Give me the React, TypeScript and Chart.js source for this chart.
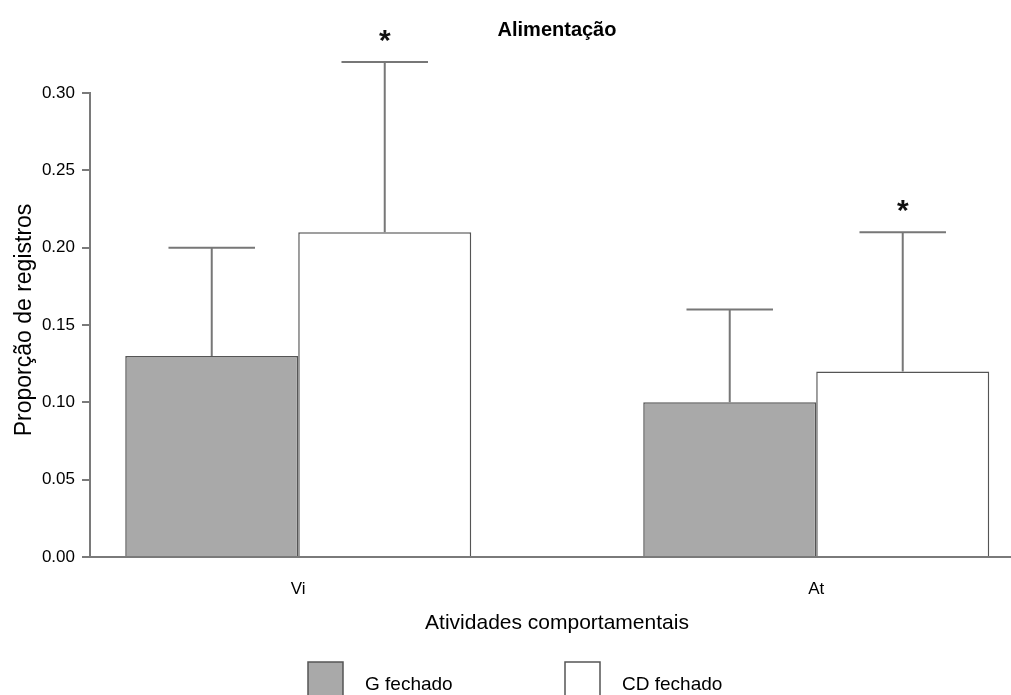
import React, { useEffect, useRef } from 'react';
import { Chart, registerables } from 'chart.js';

Chart.register(...registerables);

// ---- data ----
const categories = ['Vi', 'At'];
const categoryPositions = [1, 2];
const seriesNames = ['G fechado', 'CD fechado'];
const gFechado = [0.13, 0.1];
const cdFechado = [0.21, 0.12];
const gFechadoUpper = [0.2, 0.16];
const cdFechadoUpper = [0.32, 0.21];
const cdSignificant = [true, true];
const yTickValues = [0, 0.05, 0.1, 0.15, 0.2, 0.25, 0.3];
const chartTitle = 'Alimentação';
const xTitle = 'Atividades comportamentais';
const yTitle = 'Proporção de registros';

const FONT = '"Liberation Sans", Arial, sans-serif';
const GRAY_FILL = '#a9a9a9';
const EDGE = '#555555';
const AXIS = '#7a7a7a';
const ERR = '#777777';

const overlayPlugin = {
  id: 'overlay',
  afterDatasetsDraw(chart: any) {
    const ctx = chart.ctx;
    const yScale = chart.scales.y;
    const uppers = [gFechadoUpper, cdFechadoUpper];
    ctx.save();
    chart.data.datasets.forEach((_ds: any, di: number) => {
      const meta = chart.getDatasetMeta(di);
      meta.data.forEach((bar: any, i: number) => {
        const p = bar.getProps(['x', 'y', 'width'], true);
        const yu = yScale.getPixelForValue(uppers[di][i]);
        ctx.strokeStyle = ERR;
        ctx.lineWidth = 2;
        ctx.beginPath();
        ctx.moveTo(p.x, p.y);
        ctx.lineTo(p.x, yu);
        ctx.moveTo(p.x - p.width / 4, yu);
        ctx.lineTo(p.x + p.width / 4, yu);
        ctx.stroke();
        if (di === 1 && cdSignificant[i]) {
          ctx.fillStyle = '#111';
          ctx.font = `bold 30px ${FONT}`;
          ctx.textAlign = 'center';
          ctx.textBaseline = 'alphabetic';
          ctx.fillText('*', p.x, yu - 12);
        }
      });
    });
    ctx.restore();
  },
  afterDraw(chart: any) {
    const ctx = chart.ctx;
    ctx.save();
    ctx.fillStyle = '#000';
    // title
    ctx.font = `bold 20px ${FONT}`;
    ctx.textAlign = 'center';
    ctx.textBaseline = 'alphabetic';
    ctx.fillText(chartTitle, 557, 36);
    // x title
    ctx.font = `21px ${FONT}`;
    ctx.fillText(xTitle, 557, 629);
    // y title
    ctx.save();
    ctx.translate(31, 320);
    ctx.rotate(-Math.PI / 2);
    ctx.font = `23px ${FONT}`;
    ctx.fillText(yTitle, 0, 0);
    ctx.restore();
    // legend
    const fills = [GRAY_FILL, '#ffffff'];
    const boxX = [308, 565];
    const textX = [365, 622];
    ctx.font = `19px ${FONT}`;
    ctx.textAlign = 'left';
    seriesNames.forEach((name, i) => {
      ctx.fillStyle = fills[i];
      ctx.fillRect(boxX[i], 662, 35, 40);
      ctx.strokeStyle = EDGE;
      ctx.lineWidth = 1.5;
      ctx.strokeRect(boxX[i], 662, 35, 40);
      ctx.fillStyle = '#000';
      ctx.fillText(name, textX[i], 690);
    });
    ctx.restore();
  },
};

export default function App() {
  const ref = useRef<HTMLCanvasElement>(null);
  useEffect(() => {
    if (!ref.current) return;
    const chart = new Chart(ref.current, {
      type: 'bar',
      data: {
        datasets: [
          {
            label: seriesNames[0],
            data: categoryPositions.map((x, i) => ({ x, y: gFechado[i] })),
            backgroundColor: GRAY_FILL,
            borderColor: EDGE,
            borderWidth: 1.5,
            categoryPercentage: 346 / 518,
            barPercentage: 1,
          },
          {
            label: seriesNames[1],
            data: categoryPositions.map((x, i) => ({ x, y: cdFechado[i] })),
            backgroundColor: '#ffffff',
            borderColor: EDGE,
            borderWidth: 1.5,
            categoryPercentage: 346 / 518,
            barPercentage: 1,
          },
        ],
      },
      options: {
        responsive: false,
        animation: false,
        layout: { padding: { top: 93, left: 0, right: 0, bottom: 0 } },
        plugins: {
          legend: { display: false },
          title: { display: false },
          tooltip: { enabled: false },
        },
        scales: {
          x: {
            type: 'linear',
            offset: false,
            min: 0.598,
            max: 2.376,
            afterBuildTicks: (s: any) => {
              s.ticks = categoryPositions.map((v) => ({ value: v }));
            },
            afterFit: (s: any) => {
              s.height = 138;
            },
            grid: { display: true, offset: false, drawOnChartArea: false, drawTicks: false },
            border: { display: true, color: AXIS, width: 2 },
            ticks: {
              autoSkip: false,
              maxRotation: 0,
              padding: 22,
              color: '#000',
              font: { family: FONT, size: 17 },
              callback: (v: any) => {
                const idx = categoryPositions.indexOf(Number(v));
                return idx >= 0 ? categories[idx] : '';
              },
            },
          },
          y: {
            min: 0,
            max: 0.3,
            afterBuildTicks: (s: any) => {
              s.ticks = yTickValues.map((v) => ({ value: v }));
            },
            afterFit: (s: any) => {
              s.width = 90;
            },
            grid: { display: true, drawOnChartArea: false, drawTicks: true, tickLength: 8, color: AXIS, lineWidth: 2 },
            border: { display: true, color: AXIS, width: 2 },
            ticks: {
              padding: 7,
              color: '#000',
              font: { family: FONT, size: 17 },
              callback: (v: any) => Number(v).toFixed(2),
            },
          },
        },
      },
      plugins: [overlayPlugin],
    });
    return () => chart.destroy();
  }, []);
  return (
    <canvas
      ref={ref}
      width={1011}
      height={695}
      style={{ position: 'absolute', left: 0, top: 0, display: 'block' }}
    />
  );
}
